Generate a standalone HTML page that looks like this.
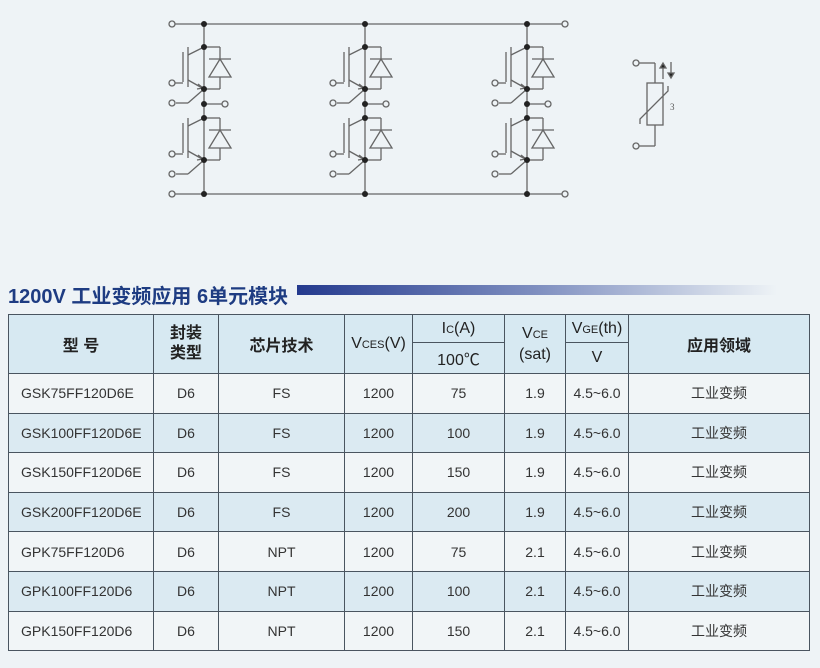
<!DOCTYPE html>
<html><head><meta charset="utf-8"><style>
body{margin:0;width:820px;height:668px;background:#eef3f6;position:relative;overflow:hidden;font-family:"Liberation Sans","Noto Sans CJK SC",sans-serif;}
.t{position:absolute;left:8px;top:280px;font-size:20px;font-weight:bold;color:#1e3c82;letter-spacing:0px;white-space:nowrap;}
.bar{position:absolute;left:297px;top:285px;width:480px;height:10px;background:linear-gradient(to right,#243a8e,#7f8fc0 50%,rgba(238,243,246,0));}
table{position:absolute;left:8px;top:314px;border-collapse:collapse;width:802px;}
td{border:1px solid #4a5560;text-align:center;color:#333;font-size:14px;padding:0;}
tr.h td{background:#d7e9f2;color:#222;font-size:16px;font-weight:bold;}
tr.d td{height:38.6px;}
tr.d td:first-child{text-align:left;padding-left:12px;}
tr.b td{background:#dbeaf2;}
tr.w td{background:#f1f5f7;}
.n{font-weight:normal !important;font-size:17px;}
sub{font-size:11px;vertical-align:baseline;}
</style></head><body>
<svg width="820" height="260" style="position:absolute;left:0;top:0" stroke="#666" stroke-width="1.3" fill="none">
<defs>
<g id="igbt">
<line x1="188" y1="47" x2="188" y2="87"/><line x1="183" y1="52" x2="183" y2="82"/>
<line x1="172" y1="83" x2="183" y2="83"/>
<line x1="188" y1="55" x2="204" y2="47"/><line x1="188" y1="80" x2="204" y2="89"/>
<path d="M198 84 L203 88 L197 89" />
<line x1="204" y1="47" x2="220" y2="47"/><line x1="220" y1="47" x2="220" y2="89"/><line x1="220" y1="89" x2="204" y2="89"/>
<line x1="209" y1="59" x2="231" y2="59"/><path d="M220 59 L209 77 L231 77 Z" fill="#eef3f6"/>
<line x1="176" y1="103" x2="188" y2="103"/><line x1="188" y1="103" x2="204" y2="89"/>
<circle cx="172" cy="83" r="3" fill="#eef3f6"/><circle cx="172" cy="103" r="3" fill="#eef3f6"/>
<circle cx="204" cy="47" r="3" fill="#222" stroke="none"/><circle cx="204" cy="89" r="3" fill="#222" stroke="none"/>
</g>
<g id="leg">
<line x1="204" y1="24" x2="204" y2="194"/>
<use href="#igbt"/><use href="#igbt" y="71"/>
<line x1="204" y1="104" x2="222" y2="104"/><circle cx="225" cy="104" r="3" fill="#eef3f6"/>
<circle cx="204" cy="24" r="3" fill="#222" stroke="none"/><circle cx="204" cy="104" r="3" fill="#222" stroke="none"/><circle cx="204" cy="194" r="3" fill="#222" stroke="none"/>
</g>
</defs>
<line x1="175" y1="24" x2="562" y2="24"/><line x1="175" y1="194" x2="562" y2="194"/>
<circle cx="172" cy="24" r="3" fill="#eef3f6"/><circle cx="172" cy="194" r="3" fill="#eef3f6"/>
<circle cx="565" cy="24" r="3" fill="#eef3f6"/><circle cx="565" cy="194" r="3" fill="#eef3f6"/>
<use href="#leg"/><use href="#leg" x="161"/><use href="#leg" x="323"/>
<line x1="639" y1="63" x2="655" y2="63"/><line x1="655" y1="63" x2="655" y2="83"/>
<rect x="647" y="83" width="16" height="42"/>
<line x1="655" y1="125" x2="655" y2="146"/><line x1="639" y1="146" x2="655" y2="146"/>
<circle cx="636" cy="63" r="3" fill="#eef3f6"/><circle cx="636" cy="146" r="3" fill="#eef3f6"/>
<polyline points="640,124 640,119 668,91 668,86"/>
<line x1="663" y1="64" x2="663" y2="79"/><path d="M660 68 L663 63 L666 68Z" fill="#222"/>
<line x1="671" y1="62" x2="671" y2="77"/><path d="M668 73 L671 78 L674 73Z" fill="#222"/>
<text x="670" y="110" font-size="9" fill="#555" stroke="none" font-family="Liberation Serif">3</text>
</svg>
<div class="t">1200V 工业变频应用 6单元模块</div>
<div class="bar"></div>
<table>
<tr class="h"><td rowspan="2" style="width:144px">型 号</td><td rowspan="2" style="width:64px;line-height:20px">封装<br>类型</td><td rowspan="2" style="width:125px">芯片技术</td><td rowspan="2" class="n" style="width:67px">V<sub>CES</sub>(V)</td><td class="n" style="width:91px;height:27px">I<sub>C</sub>(A)</td><td rowspan="2" class="n" style="width:60px;line-height:20px">V<sub>CE</sub><br>(sat)</td><td class="n" style="width:62px">V<sub>GE</sub>(th)</td><td rowspan="2">应用领域</td></tr>
<tr class="h"><td class="n" style="height:30px">100℃</td><td class="n">V</td></tr>
<tr class="d w"><td>GSK75FF120D6E</td><td>D6</td><td>FS</td><td>1200</td><td>75</td><td>1.9</td><td>4.5~6.0</td><td>工业变频</td></tr>
<tr class="d b"><td>GSK100FF120D6E</td><td>D6</td><td>FS</td><td>1200</td><td>100</td><td>1.9</td><td>4.5~6.0</td><td>工业变频</td></tr>
<tr class="d w"><td>GSK150FF120D6E</td><td>D6</td><td>FS</td><td>1200</td><td>150</td><td>1.9</td><td>4.5~6.0</td><td>工业变频</td></tr>
<tr class="d b"><td>GSK200FF120D6E</td><td>D6</td><td>FS</td><td>1200</td><td>200</td><td>1.9</td><td>4.5~6.0</td><td>工业变频</td></tr>
<tr class="d w"><td>GPK75FF120D6</td><td>D6</td><td>NPT</td><td>1200</td><td>75</td><td>2.1</td><td>4.5~6.0</td><td>工业变频</td></tr>
<tr class="d b"><td>GPK100FF120D6</td><td>D6</td><td>NPT</td><td>1200</td><td>100</td><td>2.1</td><td>4.5~6.0</td><td>工业变频</td></tr>
<tr class="d w"><td>GPK150FF120D6</td><td>D6</td><td>NPT</td><td>1200</td><td>150</td><td>2.1</td><td>4.5~6.0</td><td>工业变频</td></tr>
</table>
</body></html>
